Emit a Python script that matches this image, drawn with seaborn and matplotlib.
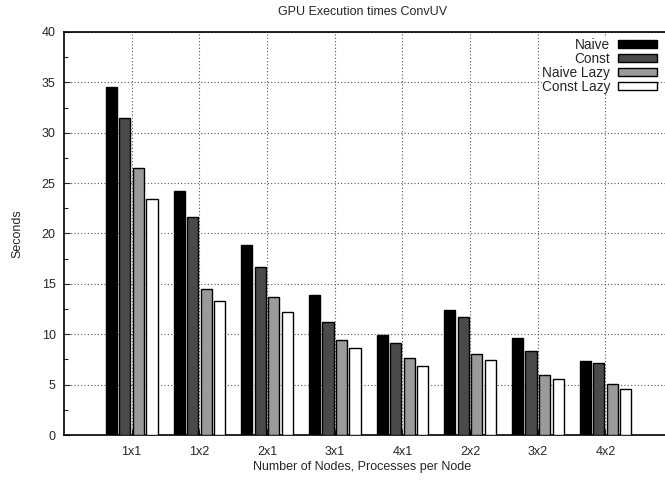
import matplotlib
matplotlib.use("Agg")
import matplotlib.pyplot as plt
import seaborn as sns
import pandas as pd
from matplotlib.ticker import MultipleLocator

categories = ["1x1", "1x2", "2x1", "3x1", "4x1", "2x2", "3x2", "4x2"]
series = ["Naive", "Const", "Naive Lazy", "Const Lazy"]
naive = [34.5, 24.2, 18.9, 13.9, 9.93, 12.37, 9.6, 7.34]
const = [31.5, 21.6, 16.7, 11.25, 9.17, 11.68, 8.37, 7.18]
naive_lazy = [26.5, 14.46, 13.7, 9.4, 7.68, 8.0, 5.92, 5.03]
const_lazy = [23.45, 13.27, 12.2, 8.6, 6.85, 7.4, 5.56, 4.6]
colors = ["#000000", "#4a4a4a", "#9a9a9a", "#ffffff"]

rows = []
for name, vals in zip(series, [naive, const, naive_lazy, const_lazy]):
    for c, v in zip(categories, vals):
        rows.append({"config": c, "series": name, "seconds": v})
df = pd.DataFrame(rows)

sns.set_style("white")
plt.rcParams["font.family"] = ["Liberation Sans", "DejaVu Sans"]

fig = plt.figure(figsize=(6.65, 4.8), dpi=100)
ax = fig.add_axes([64 / 665, 1 - 435 / 480, 1 - 64 / 665, (435 - 32) / 480])

sns.barplot(data=df, x="config", y="seconds", hue="series", order=categories,
            hue_order=series, palette=colors, width=0.8, gap=0.18,
            edgecolor="black", linewidth=1.0, saturation=1, ax=ax, zorder=3)

ax.set_xlim(-1, 7.88)
ax.set_ylim(0, 40)
ax.yaxis.set_major_locator(MultipleLocator(5))
ax.yaxis.set_minor_locator(MultipleLocator(2.5))
ax.grid(True, which="major", axis="both", color="#555555",
        linestyle=(0, (1, 2)), linewidth=0.8, zorder=0)
ax.set_axisbelow(True)
ax.tick_params(axis="y", which="major", direction="in", length=4, width=0.8,
               labelsize=9, pad=6, left=True)
ax.tick_params(axis="y", which="minor", direction="in", length=3, width=0.8, left=True)
ax.tick_params(axis="x", which="major", direction="in", length=4, width=0.8,
               labelsize=9, pad=8, bottom=True)

for s in ["left", "bottom", "top"]:
    ax.spines[s].set_visible(True)
    ax.spines[s].set_color("black")
    ax.spines[s].set_linewidth(1.2)
ax.spines["right"].set_visible(False)

ax.set_title("GPU Execution times ConvUV", fontsize=9, pad=12, x=0.496)
ax.set_ylabel("Seconds", fontsize=9, labelpad=13)
ax.set_xlabel("Number of Nodes, Processes per Node", fontsize=9, labelpad=3)
ax.xaxis.set_label_coords(0.496, -0.065)

leg = ax.legend(loc="upper right", bbox_to_anchor=(657 / 665, 1 - 38 / 480),
                bbox_transform=fig.transFigure, markerfirst=False,
                frameon=True, fontsize=9.8, handlelength=2.85, handleheight=0.5,
                labelspacing=0.0, handletextpad=0.6, borderpad=0.0,
                borderaxespad=0.0)
leg.get_frame().set_edgecolor("none")
leg.get_frame().set_facecolor("white")
leg.get_frame().set_alpha(1)
for t in leg.get_texts():
    t.set_ha("right")
leg.set_zorder(5)

fig.savefig("out.png", dpi=100)
